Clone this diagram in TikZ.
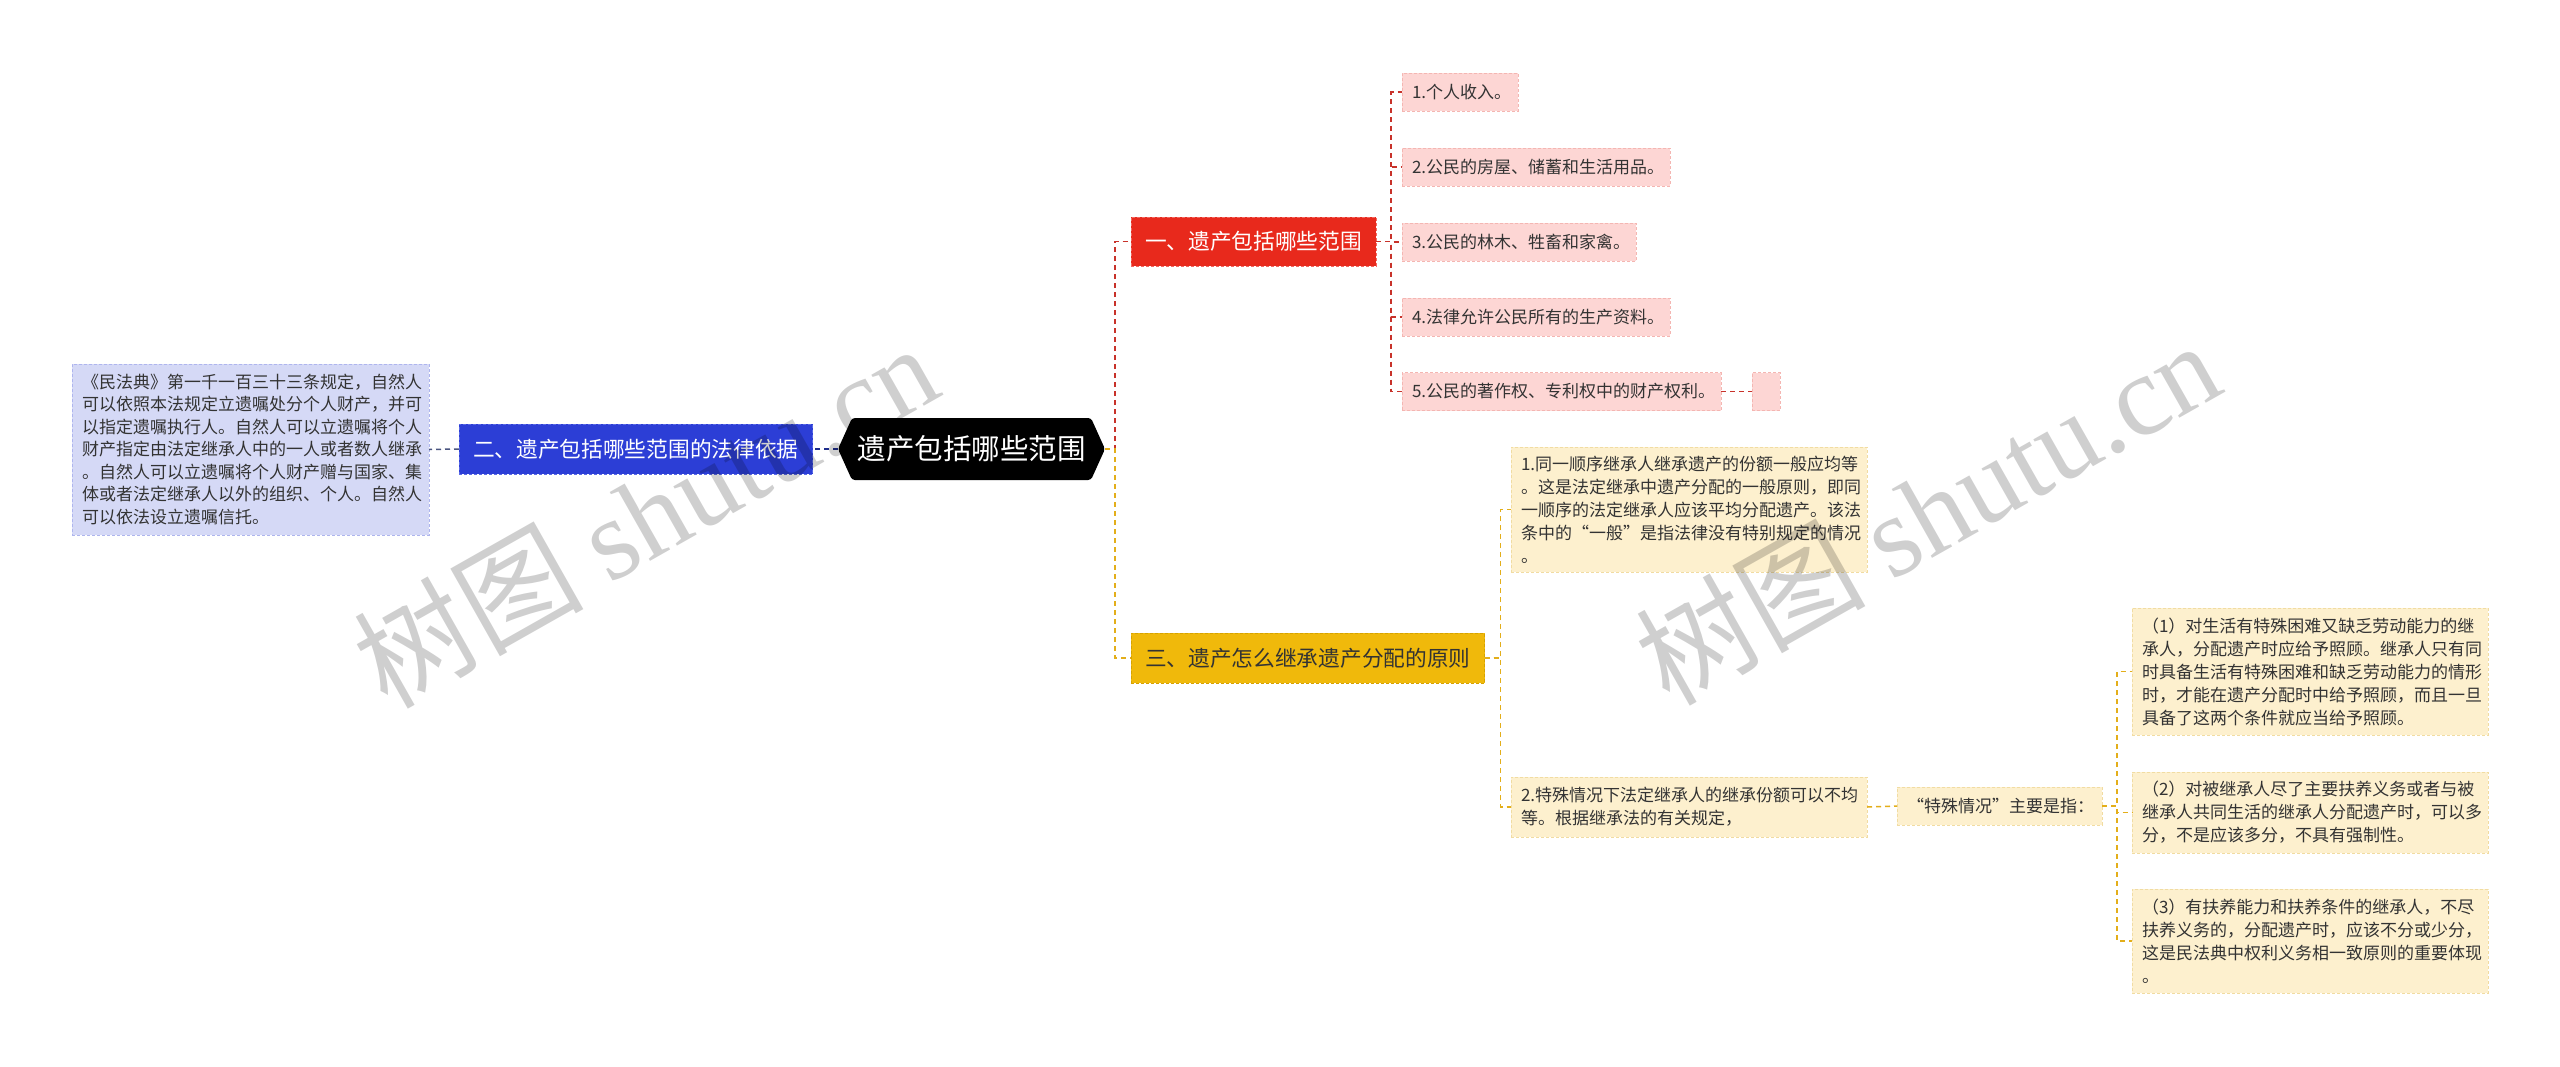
\documentclass[tikz,border=0pt]{standalone}
\usepackage{fontspec}
\setmainfont{Noto Sans CJK SC}
\newfontfamily\wmlatin{Liberation Serif}
\usetikzlibrary{backgrounds}
\definecolor{bluefill}{HTML}{2C3ED6}
\definecolor{blueborder}{HTML}{5A6AE6}
\definecolor{lavfill}{HTML}{D5D9F6}
\definecolor{lavborder}{HTML}{AEB5EE}
\definecolor{redfill}{HTML}{E8291C}
\definecolor{redborder}{HTML}{F26A62}
\definecolor{pinkfill}{HTML}{FDD6D4}
\definecolor{pinkborder}{HTML}{F4B6B2}
\definecolor{yelfill}{HTML}{F0B90B}
\definecolor{yelborder}{HTML}{D6A200}
\definecolor{creamfill}{HTML}{FDF0CE}
\definecolor{creamborder}{HTML}{F1DCA2}
\definecolor{redln}{HTML}{C8322A}
\definecolor{yelln}{HTML}{E3AE1A}
\definecolor{navyln}{HTML}{1E2D8C}
\definecolor{greyln}{HTML}{4A5580}
\definecolor{txt}{HTML}{333333}
\begin{document}
\begin{tikzpicture}[x=1pt,y=-1pt,
  box/.style={rectangle, anchor=west, outer sep=0pt, inner ysep=0pt, inner xsep=10pt, align=left,
    line width=0.8pt, dash pattern=on 3pt off 2pt},
  leaftext/.style={font=\fontsize{17}{23}\selectfont, text=txt},
  pinkleaf/.style={box, leaftext, fill=pinkfill, draw=pinkborder, minimum height=38pt},
  creamleaf/.style={box, leaftext, fill=creamfill, draw=creamborder},
  lavleaf/.style={box, font=\fontsize{17}{22.5}\selectfont, text=txt, fill=lavfill, draw=lavborder},
  mainbox/.style={box, font=\fontsize{21.7}{26}\selectfont, minimum height=49pt, inner xsep=14pt},
  conn/.style={line width=1.5pt, dash pattern=on 5pt off 4pt},
  redline/.style={conn, draw=redln},
  yelline/.style={conn, draw=yelln},
  navyline/.style={conn, draw=navyln},
  greyline/.style={conn, draw=greyln},
  wm/.style={rotate=29.5, text=black, opacity=0.19, font=\fontsize{115}{115}\selectfont}
]
\useasboundingbox (0,0) rectangle (2560,1066);

% central
\node[rectangle, anchor=west, outer sep=0pt, minimum width=267pt, minimum height=62pt,
  text=white, font=\fontsize{28.5}{32}\selectfont] (center) at (838,449) {遗产包括哪些范围};
\begin{scope}[on background layer]
\fill[white] (0,0) rectangle (2560,1066);
\fill[black, rounded corners=3pt] ([xshift=14pt]center.north west) -- ([xshift=-14pt]center.north east)
  -- (center.east) -- ([xshift=-14pt]center.south east) -- ([xshift=14pt]center.south west)
  -- (center.west) -- cycle;
\end{scope}

% left branch
\node[mainbox, fill=bluefill, draw=blueborder, text=white, minimum width=349pt, minimum height=50pt]
  (blue) at (459,449) {二、遗产包括哪些范围的法律依据};
\node[lavleaf, minimum width=357pt, text width=337pt, minimum height=171pt, inner xsep=10pt]
  (lbox) at (72,449.5) {《民法典》第一千一百三十三条规定，自然人\\可以依照本法规定立遗嘱处分个人财产，并可\\以指定遗嘱执行人。自然人可以立遗嘱将个人\\财产指定由法定继承人中的一人或者数人继承\\。自然人可以立遗嘱将个人财产赠与国家、集\\体或者法定继承人以外的组织、个人。自然人\\可以依法设立遗嘱信托。};

% red branch
\node[mainbox, fill=redfill, draw=redborder, text=white, minimum width=240pt] (red) at (1131,241.5) {一、遗产包括哪些范围};
\node[pinkleaf, minimum width=116pt, text width=96pt] (p1) at (1402,92) {1.个人收入。};
\node[pinkleaf, minimum width=268pt, text width=248pt] (p2) at (1402,167) {2.公民的房屋、储蓄和生活用品。};
\node[pinkleaf, minimum width=234pt, text width=214pt] (p3) at (1402,242) {3.公民的林木、牲畜和家禽。};
\node[pinkleaf, minimum width=268pt, text width=248pt] (p4) at (1402,317) {4.法律允许公民所有的生产资料。};
\node[pinkleaf, minimum width=319pt, text width=299pt] (p5) at (1402,391.5) {5.公民的著作权、专利权中的财产权利。};
\node[pinkleaf, minimum width=28pt, inner xsep=0pt] (p6) at (1752,391.5) {};

% yellow branch
\node[mainbox, fill=yelfill, draw=yelborder, text=txt, minimum width=348pt, minimum height=50pt] (yel) at (1131,658) {三、遗产怎么继承遗产分配的原则};
\node[creamleaf, minimum width=356pt, text width=336pt, minimum height=125pt] (y1) at (1511,509.5)
  {1.同一顺序继承人继承遗产的份额一般应均等\\。这是法定继承中遗产分配的一般原则，即同\\一顺序的法定继承人应该平均分配遗产。该法\\条中的“一般”是指法律没有特别规定的情况\\。};
\node[creamleaf, minimum width=356pt, text width=336pt, minimum height=60pt] (y2) at (1511,807)
  {2.特殊情况下法定继承人的继承份额可以不均\\等。根据继承法的有关规定，};
\node[creamleaf, minimum width=205pt, text width=185pt, minimum height=38pt] (sp) at (1897,806)
  {“特殊情况”主要是指：};
\node[creamleaf, minimum width=356pt, text width=336pt, minimum height=127pt] (r1) at (2132,671.5)
  {（1）对生活有特殊困难又缺乏劳动能力的继\\承人，分配遗产时应给予照顾。继承人只有同\\时具备生活有特殊困难和缺乏劳动能力的情形\\时，才能在遗产分配时中给予照顾，而且一旦\\具备了这两个条件就应当给予照顾。};
\node[creamleaf, minimum width=356pt, text width=336pt, minimum height=81pt] (r2) at (2132,812.5)
  {（2）对被继承人尽了主要扶养义务或者与被\\继承人共同生活的继承人分配遗产时，可以多\\分，不是应该多分，不具有强制性。};
\node[creamleaf, minimum width=356pt, text width=336pt, minimum height=104pt] (r3) at (2132,941)
  {（3）有扶养能力和扶养条件的继承人，不尽\\扶养义务的，分配遗产时，应该不分或少分，\\这是民法典中权利义务相一致原则的重要体现\\。};

% connectors
\draw[navyline] (center.west) -- (blue.east);
\draw[greyline] (blue.west) -- (lbox.east);
\draw[redline] (center.east) -- ++(10pt,0) |- (red.west);
\draw[yelline] (center.east) -- ++(10pt,0) |- (yel.west);
\foreach \n in {p1,p2,p3,p4,p5} \draw[redline] (red.east) -- ++(15pt,0) |- (\n.west);
\draw[redline] (p5.east) -- (p6.west);
\foreach \n in {y1,y2} \draw[yelline] (yel.east) -- ++(16pt,0) |- (\n.west);
\draw[yelline] (y2.east) -- (sp.west);
\foreach \n in {r1,r2,r3} \draw[yelline] (sp.east) -- ++(15pt,0) |- (\n.west);

% watermarks
\node[wm] (wm1) at (645,514) {树图 {\wmlatin shutu.cn}};
\node[wm] (wm2) at (1927,511) {树图 {\wmlatin shutu.cn}};
\end{tikzpicture}
\end{document}
